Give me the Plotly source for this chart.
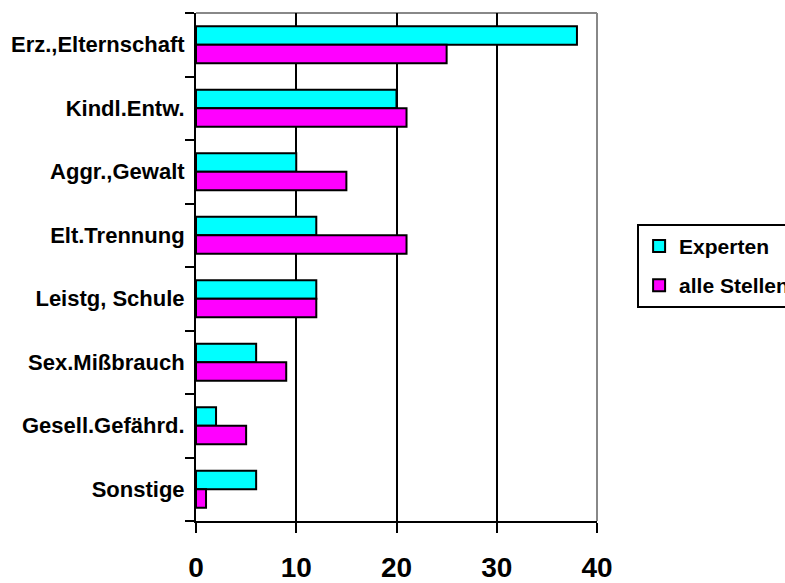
import plotly.graph_objects as go

categories = ["Erz.,Elternschaft", "Kindl.Entw.", "Aggr.,Gewalt", "Elt.Trennung",
              "Leistg, Schule", "Sex.Mißbrauch", "Gesell.Gefährd.", "Sonstige"]
experten = [38, 20, 10, 12, 12, 6, 2, 6]
alle_stellen = [25, 21, 15, 21, 12, 9, 5, 1]
x_ticks = [0, 10, 20, 30, 40]

FONT = "Liberation Sans, Arial, sans-serif"

fig = go.Figure()
fig.add_trace(go.Bar(y=categories, x=experten, orientation="h", name="<b>Experten</b>",
                     legendgroup="a",
                     marker=dict(color="#00FFFF", line=dict(color="black", width=2))))
fig.add_trace(go.Bar(y=categories, x=alle_stellen, orientation="h", name="<b>alle Stellen</b>",
                     legendgroup="b",
                     marker=dict(color="#FF00FF", line=dict(color="black", width=2))))

fig.update_layout(
    width=785, height=583,
    margin=dict(l=196, r=188, t=13, b=62, autoexpand=False),
    paper_bgcolor="white", plot_bgcolor="white",
    barmode="group", bargap=0.42, bargroupgap=0,
    font=dict(family=FONT, color="black"),
    legend=dict(x=1.1, y=0.585, xanchor="left", yanchor="top",
                bordercolor="black", borderwidth=2,
                font=dict(family=FONT, size=21, color="black"),
                traceorder="grouped", tracegroupgap=9),
    xaxis=dict(range=[0, 40], tickvals=x_ticks, ticktext=[f"<b>{v}</b>" for v in x_ticks],
               showgrid=True, gridcolor="black", gridwidth=2,
               showline=True, linecolor="black", linewidth=2,
               ticks="outside", ticklen=10, tickwidth=2, tickcolor="black",
               tickfont=dict(family=FONT, size=28, color="black"),
               ticklabelstandoff=10, zeroline=False),
    yaxis=dict(categoryorder="array", categoryarray=categories, autorange="reversed",
               tickvals=categories, ticktext=[f"<b>{c}</b>" for c in categories],
               tickson="boundaries", ticks="outside", ticklen=9, tickwidth=2, tickcolor="black",
               showline=True, linecolor="black", linewidth=2, showgrid=False,
               ticklabelstandoff=5,
               tickfont=dict(family=FONT, size=22, color="black")),
    showlegend=True,
)

fig.add_shape(type="line", xref="paper", yref="paper", x0=0, x1=1, y0=1, y1=1,
              line=dict(color="#888888", width=2), layer="between")
fig.add_shape(type="line", xref="paper", yref="paper", x0=1, x1=1, y0=0, y1=1,
              line=dict(color="#888888", width=2), layer="between")

fig.write_html("out.html")
